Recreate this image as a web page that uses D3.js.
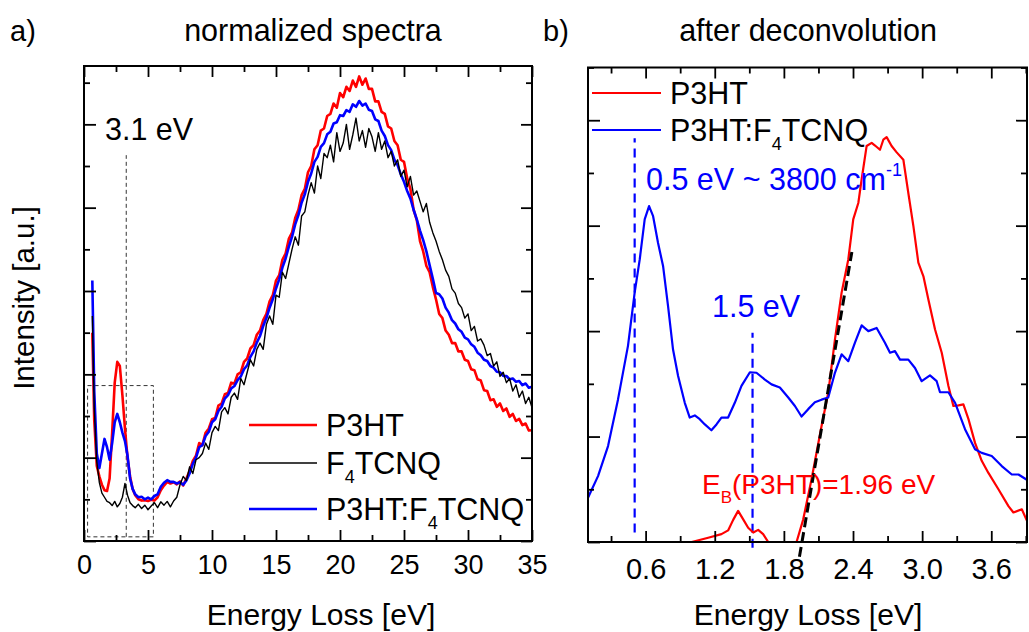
<!DOCTYPE html>
<html>
<head>
<meta charset="utf-8">
<script src="https://cdn.jsdelivr.net/npm/d3@7"></script>
<style>
  body{margin:0;background:#fff}
  svg{display:block}
</style>
</head>
<body>
<svg id="chart" width="1029" height="632"></svg>
<script>
// ---- panel a) normalized spectra (energy loss, eV) ----
const energyA = [
  0.65, 0.8, 1.0, 1.2, 1.4, 1.6, 1.8, 2.0, 2.2, 2.4, 2.6, 2.8, 3.0, 3.2, 3.4, 3.6, 3.8, 4.0,
  4.25, 4.5, 4.75, 5, 5.25, 5.5, 5.75, 6, 6.25, 6.5, 6.75, 7, 7.25, 7.5, 7.75, 8,
  8.25, 8.5, 8.75, 9, 9.25, 9.5, 9.75, 10, 10.25, 10.5, 10.75, 11, 11.25, 11.5, 11.75, 12,
  12.25, 12.5, 12.75, 13, 13.25, 13.5, 13.75, 14, 14.25, 14.5, 14.75, 15, 15.25, 15.5, 15.75, 16,
  16.25, 16.5, 16.75, 17, 17.25, 17.5, 17.75, 18, 18.25, 18.5, 18.75, 19, 19.25, 19.5, 19.75, 20,
  20.25, 20.5, 20.75, 21, 21.25, 21.5, 21.75, 22, 22.25, 22.5, 22.75, 23, 23.25, 23.5, 23.75, 24,
  24.25, 24.5, 24.75, 25, 25.25, 25.5, 25.75, 26, 26.25, 26.5, 26.75, 27, 27.25, 27.5, 27.75, 28,
  28.25, 28.5, 28.75, 29, 29.25, 29.5, 29.75, 30, 30.25, 30.5, 30.75, 31, 31.25, 31.5, 31.75, 32,
  32.25, 32.5, 32.75, 33, 33.25, 33.5, 33.75, 34, 34.25, 34.5, 34.75, 35
];
const p3htA = [
  5.0, 2.9, 1.8, 1.55, 1.35, 1.22, 1.2, 1.5, 2.6, 3.8, 4.3, 4.2, 3.5, 2.7, 2.0, 1.55, 1.25, 1.1,
  1.0, 0.97, 0.98, 0.96, 0.99, 0.97, 1.05, 1.22, 1.33, 1.42, 1.38, 1.41, 1.36, 1.43, 1.33, 1.5,
  1.68, 1.92, 2.05, 2.35, 2.3, 2.6, 2.7, 2.92, 2.95, 3.25, 3.3, 3.52, 3.55, 3.8, 3.78, 4.0,
  4.05, 4.3, 4.38, 4.62, 4.7, 4.95, 5.05, 5.3, 5.45, 5.75, 5.9, 6.25, 6.38, 6.75, 6.9, 7.25,
  7.4, 7.75, 7.95, 8.3, 8.45, 8.85, 9.0, 9.4, 9.5, 9.85, 9.9, 10.2, 10.25, 10.5, 10.4, 10.75,
  10.65, 10.9, 10.8, 11.05, 10.9, 11.15, 10.95, 11.1, 10.85, 10.85, 10.55, 10.55, 10.3, 10.25, 9.95, 9.9,
  9.6, 9.5, 9.15, 9.1, 8.7, 8.45, 7.95, 7.7, 7.2, 6.95, 6.6, 6.45, 6.1, 5.8, 5.45, 5.35,
  5.05, 4.95, 4.75, 4.75, 4.55, 4.55, 4.35, 4.32, 4.12, 4.1, 3.88, 3.85, 3.62, 3.6, 3.38, 3.4,
  3.22, 3.3, 3.12, 3.18, 2.98, 3.05, 2.88, 2.93, 2.78, 2.82, 2.65, 2.66
];
const f4tcnqA = [
  5.4, 3.2, 1.9, 1.4, 1.15, 1.05, 0.95, 0.92, 0.85, 0.95, 0.82, 0.9, 1.05, 1.38, 1.1, 0.92, 0.85, 0.8,
  0.88, 0.78, 0.86, 0.75, 0.84, 0.92, 0.8, 0.94, 0.86, 0.95, 0.82, 0.96, 1.05, 1.35, 1.55, 1.45,
  1.78, 1.62, 1.95, 2.0, 2.1, 2.35, 2.2, 2.6, 2.75, 2.65, 3.1, 3.2, 3.05, 3.45, 3.55, 3.4,
  3.9, 3.75, 4.05, 4.35, 4.2, 4.6, 4.75, 4.6, 5.2, 5.4, 5.2, 5.9, 5.85, 6.45, 6.3, 6.65,
  7.0, 7.3, 7.1, 7.8, 7.9, 8.3, 8.6, 8.35, 9.0, 8.7, 9.3, 9.2, 9.5, 9.1, 9.8, 9.35,
  9.55, 10.0, 9.4, 9.75, 10.15, 9.6, 9.85, 9.45, 9.9, 9.7, 9.35, 9.8, 9.4, 9.6, 9.2, 9.35,
  9.0, 9.15, 8.75, 8.9, 8.5, 8.75, 8.3, 8.4, 8.15, 7.9, 8.1, 7.65, 7.4, 7.2, 6.95, 6.75,
  6.5, 6.35, 6.05, 5.95, 5.7, 5.6, 5.35, 5.45, 5.05, 5.15, 4.8, 4.85, 4.7, 4.45, 4.5, 4.2,
  4.3, 3.95, 4.05, 3.8, 3.9, 3.6, 3.75, 3.45, 3.6, 3.3, 3.45, 3.2
];
const blendA = [
  6.25, 3.6, 2.1, 1.75, 2.1, 2.45, 2.25, 1.95, 2.35, 2.85, 3.05, 2.85, 2.6, 2.4, 2.05, 1.5, 1.25, 1.12,
  1.05, 1.06, 1.0, 1.04, 1.0, 1.08, 1.12, 1.3, 1.4, 1.46, 1.42, 1.42, 1.38, 1.41, 1.35, 1.45,
  1.62, 1.85, 2.0, 2.25, 2.3, 2.52, 2.62, 2.85, 2.92, 3.12, 3.22, 3.42, 3.5, 3.66, 3.72, 3.86,
  3.95, 4.12, 4.22, 4.42, 4.55, 4.76, 4.92, 5.16, 5.35, 5.6, 5.8, 6.06, 6.28, 6.56, 6.78, 7.06,
  7.3, 7.6, 7.82, 8.12, 8.32, 8.62, 8.82, 9.1, 9.22, 9.46, 9.55, 9.76, 9.82, 10.02, 10.05, 10.22,
  10.2, 10.34, 10.3, 10.48, 10.42, 10.56, 10.45, 10.5, 10.35, 10.32, 10.12, 10.08, 9.85, 9.72, 9.5, 9.38,
  9.15, 9.02, 8.8, 8.62, 8.4, 8.22, 7.95, 7.72, 7.45, 7.22, 6.95, 6.62, 6.3, 5.95, 5.92, 5.82,
  5.6, 5.48, 5.3, 5.22, 5.08, 5.02, 4.88, 4.84, 4.72, 4.66, 4.52, 4.46, 4.35, 4.32, 4.2, 4.16,
  4.06, 4.05, 3.96, 3.96, 3.88, 3.9, 3.82, 3.84, 3.74, 3.78, 3.68, 3.7
];
const xMajorA = [0, 5, 10, 15, 20, 25, 30, 35];
const xMinorA = [2.5, 7.5, 12.5, 17.5, 22.5, 27.5, 32.5];
const yMajorA = [0, 2, 4, 6, 8, 10];
const yMinorA = [1, 3, 5, 7, 9, 11];
const boxA = { e: [0.28, 5.42], i: [0.1, 3.73] };   // dashed box round the low-loss part
const markA = { e: 3.3, i: [0.1, 9.26] };           // dashed line under "3.1 eV"

// ---- panel b) after deconvolution ----
const energyB_blend = [
  0.1, 0.187, 0.274, 0.36, 0.447, 0.505, 0.549, 0.592, 0.63, 0.665, 0.708, 0.752, 0.795, 0.838, 0.882, 0.94,
  0.983, 1.027, 1.07, 1.114, 1.171, 1.215, 1.258, 1.316, 1.374, 1.432, 1.505, 1.562, 1.635, 1.693, 1.765, 1.838,
  1.896, 1.953, 2.011, 2.069, 2.127, 2.185, 2.243, 2.301, 2.359, 2.417, 2.475, 2.533, 2.605, 2.677, 2.721, 2.764,
  2.808, 2.88, 2.938, 2.996, 3.068, 3.126, 3.155, 3.228, 3.286, 3.372, 3.459, 3.517, 3.604, 3.691, 3.778, 3.836, 3.923
];
const intensB_blend = [
  0.84, 1.25, 1.82, 2.7, 3.72, 4.73, 5.36, 6.12, 6.37, 6.18, 5.67, 5.23, 4.47, 3.65, 3.15, 2.64,
  2.36, 2.4, 2.33, 2.23, 2.12, 2.23, 2.36, 2.36, 2.64, 2.96, 3.22, 3.21, 3.08, 2.99, 2.93, 2.74,
  2.58, 2.38, 2.52, 2.65, 2.7, 2.74, 3.21, 3.56, 3.43, 3.78, 4.11, 4.0, 4.06, 3.78, 3.59, 3.62,
  3.46, 3.46, 3.3, 3.05, 3.16, 3.05, 2.84, 2.84, 2.64, 2.14, 1.76, 1.69, 1.63, 1.44, 1.28, 1.28, 1.16
];
// null = curve runs below the axis there
const energyB_p3ht = [
  1.0, 1.143, 1.258, 1.316, 1.36, 1.403, 1.447, 1.49, 1.534, 1.577, 1.62, 1.664, null,
  1.91, 1.968, 2.04, 2.127, 2.185, 2.243, 2.301, 2.359, 2.402, 2.446, 2.475, 2.518, 2.562, 2.591, 2.634,
  2.663, 2.692, 2.735, 2.779, 2.837, 2.88, 2.924, 2.967, 3.011, 3.054, 3.112, 3.17, 3.228, 3.271,
  3.315, 3.358, 3.402, 3.459, 3.517, 3.575, 3.662, 3.749, 3.792, 3.865, 3.931
];
const intensB_p3ht = [
  0, 0.08, 0.15, 0.22, 0.42, 0.59, 0.43, 0.27, 0.18, 0.23, 0.15, 0, null,
  0, 0.43, 1.19, 2.2, 2.83, 3.84, 4.73, 5.36, 6.12, 6.43, 6.88, 7.51, 7.57, 7.52, 7.44,
  7.63, 7.68, 7.51, 7.39, 7.25, 6.62, 5.99, 5.3, 5.04, 4.6, 4.03, 3.59, 2.96, 2.58,
  2.59, 2.61, 2.33, 1.88, 1.54, 1.31, 1.0, 0.68, 0.56, 0.62, 0.3
];
const edgeFitE = [1.935, 2.39];   // linear fit of the P3HT onset
const edgeFitI = [-0.28, 5.5];
const peakMarks = [ { e: 0.505, i: [0.18, 7.66] }, { e: 1.528, i: [-0.11, 3.97] } ];
const xMajorB = [0.6, 1.2, 1.8, 2.4, 3.0, 3.6];
const xMinorB = [0.3, 0.9, 1.5, 2.1, 2.7, 3.3, 3.9];
const yMajorB = [0, 2, 4, 6, 8];
const yMinorB = [1, 3, 5, 7, 9];

const RED = '#ff0000', BLUE = '#0000ff';
const FONT = '"Liberation Sans", Arial, Helvetica, sans-serif';
const svg = d3.select('#chart').attr('font-family', FONT);

const zip = (xs, ys) => xs.map((x, i) => [x, ys[i]]);

function tickSet(g, axis, transform, fs) {
  const a = g.append('g').attr('transform', transform).call(axis)
    .attr('font-family', FONT).attr('font-size', fs || 10);
  a.select('.domain').remove();
  a.selectAll('line').attr('stroke', '#000').attr('stroke-width', 1.8);
  a.selectAll('text').attr('fill', '#000');
  return a;
}

function drawFrame(g, x, y, p) {
  const [l, r] = x.range(), [b, t] = y.range();
  const none = () => '';
  tickSet(g, d3.axisBottom(x).tickValues(p.xMinor).tickSize(-6).tickFormat(none), `translate(0,${b})`);
  tickSet(g, d3.axisBottom(x).tickValues(p.xMajor).tickSize(-11).tickPadding(p.pad).tickFormat(p.fmt),
    `translate(0,${b})`, p.fs);
  tickSet(g, d3.axisTop(x).tickValues(p.xMinor).tickSize(-6).tickFormat(none), `translate(0,${t})`);
  tickSet(g, d3.axisTop(x).tickValues(p.xMajor).tickSize(-11).tickFormat(none), `translate(0,${t})`);
  tickSet(g, d3.axisLeft(y).tickValues(p.yMinor).tickSize(-6).tickFormat(none), `translate(${l},0)`);
  tickSet(g, d3.axisLeft(y).tickValues(p.yMajor).tickSize(-12).tickFormat(none), `translate(${l},0)`);
  tickSet(g, d3.axisRight(y).tickValues(p.yMinor).tickSize(-6).tickFormat(none), `translate(${r},0)`);
  tickSet(g, d3.axisRight(y).tickValues(p.yMajor).tickSize(-11).tickFormat(none), `translate(${r},0)`);
  g.append('rect').attr('x', l).attr('y', t).attr('width', r - l).attr('height', b - t)
    .attr('fill', 'none').attr('stroke', '#000').attr('stroke-width', 2);
}

function text(g, x, y, parts, fill, fs) {
  // parts: plain strings, or {sub:'..'} / {sup:'..'}
  const size = fs || 30.5, small = Math.round(size * 0.59);
  const t = g.append('text').attr('x', x).attr('y', y).attr('fill', fill || '#000')
    .attr('font-size', size);
  let shift = 0;
  parts.forEach(p => {
    if (typeof p === 'string') {
      t.append('tspan').attr('dy', -shift).text(p); shift = 0;
    } else if (p.sub) {
      t.append('tspan').attr('dy', 9 - shift).attr('font-size', small).text(p.sub); shift = 9;
    } else {
      t.append('tspan').attr('dy', -14 - shift).attr('font-size', small).text(p.sup); shift = -14;
    }
  });
  return t;
}

function legend(g, x0, x1, items) {
  items.forEach(it => {
    g.append('line').attr('x1', x0).attr('x2', x1).attr('y1', it.y).attr('y2', it.y)
      .attr('stroke', it.color).attr('stroke-width', it.w);
    text(g, x1 + 9, it.y + 11, it.label);
  });
}

// ---------- panel a ----------
const gA = svg.append('g');
const xA = d3.scaleLinear().domain([0, 35]).range([84, 532]);
const yA = d3.scaleLinear().domain([0, 11.4]).range([541, 66]);
const lineA = d3.line().x(d => xA(d[0])).y(d => yA(d[1]));

gA.append('rect')
  .attr('x', xA(boxA.e[0])).attr('y', yA(boxA.i[1]))
  .attr('width', xA(boxA.e[1]) - xA(boxA.e[0])).attr('height', yA(boxA.i[0]) - yA(boxA.i[1]))
  .attr('fill', 'none').attr('stroke', '#333').attr('stroke-width', 1).attr('stroke-dasharray', '4,3');
gA.append('line')
  .attr('x1', xA(markA.e)).attr('x2', xA(markA.e)).attr('y1', yA(markA.i[0])).attr('y2', yA(markA.i[1]))
  .attr('stroke', '#333').attr('stroke-width', 1).attr('stroke-dasharray', '4,3');

[[p3htA, RED, 2.6], [blendA, BLUE, 2.6], [f4tcnqA, '#000', 1.4]].forEach(([vals, c, w]) => {
  gA.append('path').datum(zip(energyA, vals)).attr('d', lineA)
    .attr('fill', 'none').attr('stroke', c).attr('stroke-width', w).attr('stroke-linejoin', 'round');
});

drawFrame(gA, xA, yA, { xMajor: xMajorA, xMinor: xMinorA, yMajor: yMajorA, yMinor: yMinorA,
  fmt: d3.format('d'), pad: 14, fs: 27 });

text(gA, 105, 140, ['3.1 eV']);
legend(gA, 249, 317, [
  { y: 425, color: RED, w: 2.6, label: ['P3HT'] },
  { y: 463, color: '#000', w: 1.4, label: ['F', { sub: '4' }, 'TCNQ'] },
  { y: 509, color: BLUE, w: 2.6, label: ['P3HT:F', { sub: '4' }, 'TCNQ'] },
]);

gA.append('text').attr('x', 10).attr('y', 41).attr('font-size', 29).text('a)');
gA.append('text').attr('x', 313).attr('y', 41).attr('font-size', 30.5).attr('text-anchor', 'middle')
  .text('normalized spectra');
gA.append('text').attr('x', 321).attr('y', 625).attr('font-size', 30).attr('text-anchor', 'middle')
  .text('Energy Loss [eV]');
gA.append('text').attr('transform', 'translate(34,298) rotate(-90)').attr('font-size', 29.5)
  .attr('text-anchor', 'middle').text('Intensity [a.u.]');

// ---------- panel b ----------
const gB = svg.append('g');
const xB = d3.scaleLinear().domain([0.1, 3.91]).range([588, 1027]);
const yB = d3.scaleLinear().domain([0, 9]).range([542, 67.5]);
const lineB = d3.line().defined(d => d[0] != null).x(d => xB(d[0])).y(d => yB(d[1]));

svg.append('clipPath').attr('id', 'clipB').append('rect')
  .attr('x', 588).attr('y', 67.5).attr('width', 439).attr('height', 474.5);

peakMarks.forEach(m => {
  gB.append('line').attr('x1', xB(m.e)).attr('x2', xB(m.e)).attr('y1', yB(m.i[0])).attr('y2', yB(m.i[1]))
    .attr('stroke', BLUE).attr('stroke-width', 2.2).attr('stroke-dasharray', '9,6');
});

gB.append('path').datum(zip(energyB_p3ht, intensB_p3ht)).attr('d', lineB).attr('clip-path', 'url(#clipB)')
  .attr('fill', 'none').attr('stroke', RED).attr('stroke-width', 2.2).attr('stroke-linejoin', 'round');
gB.append('path').datum(zip(energyB_blend, intensB_blend)).attr('d', lineB).attr('clip-path', 'url(#clipB)')
  .attr('fill', 'none').attr('stroke', BLUE).attr('stroke-width', 2.2).attr('stroke-linejoin', 'round');
gB.append('path').datum(zip(edgeFitE, edgeFitI)).attr('d', lineB)
  .attr('fill', 'none').attr('stroke', '#000').attr('stroke-width', 3).attr('stroke-dasharray', '10,5');

drawFrame(gB, xB, yB, { xMajor: xMajorB, xMinor: xMinorB, yMajor: yMajorB, yMinor: yMinorB,
  fmt: d3.format('.1f'), pad: 16, fs: 29 });

legend(gB, 592, 661, [
  { y: 93, color: RED, w: 2.2, label: ['P3HT'] },
  { y: 130, color: BLUE, w: 2.2, label: ['P3HT:F', { sub: '4' }, 'TCNQ'] },
]);
text(gB, 646, 190, ['0.5 eV ~ 3800 cm', { sup: '-1' }], BLUE);
text(gB, 712, 317, ['1.5 eV'], BLUE);
text(gB, 702, 494, ['E', { sub: 'B' }, '(P3HT)=1.96 eV'], RED, 28);

gB.append('text').attr('x', 543).attr('y', 41).attr('font-size', 29).text('b)');
gB.append('text').attr('x', 808).attr('y', 41).attr('font-size', 30.5).attr('text-anchor', 'middle')
  .text('after deconvolution');
gB.append('text').attr('x', 808).attr('y', 625).attr('font-size', 30).attr('text-anchor', 'middle')
  .text('Energy Loss [eV]');
</script>
</body>
</html>
